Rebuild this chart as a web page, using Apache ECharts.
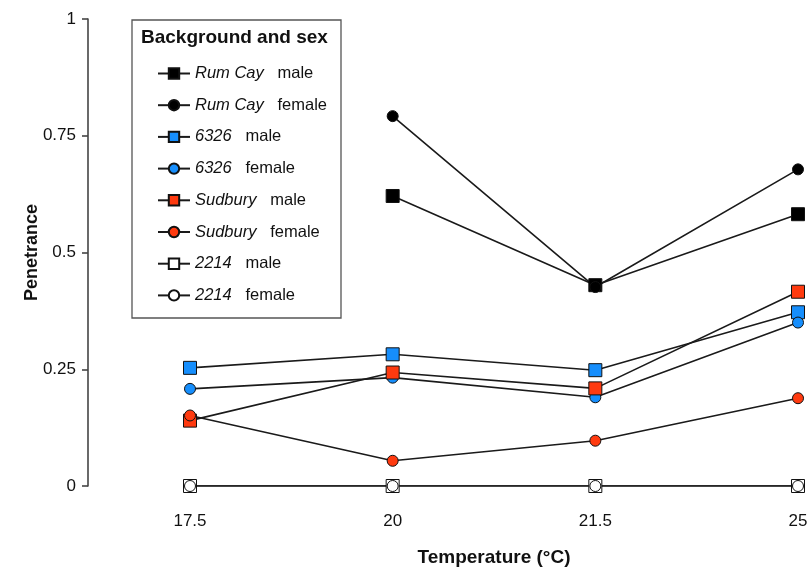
<!DOCTYPE html>
<html>
<head>
<meta charset="utf-8">
<script src="https://cdn.jsdelivr.net/npm/echarts@6/dist/echarts.min.js"></script>
<style>
html,body{margin:0;padding:0;background:#fff;}
#c{width:812px;height:569px;}
</style>
</head>
<body>
<div id="c"></div>
<script>
const temperatures = ['17.5', '20', '21.5', '25'];
const yTicks = [0, 0.25, 0.5, 0.75, 1];
const rumCayMale = [null, 0.621, 0.430, 0.582];
const rumCayFemale = [null, 0.792, 0.426, 0.678];
const m6326Male = [0.253, 0.282, 0.248, 0.372];
const m6326Female = [0.208, 0.232, 0.190, 0.350];
const sudburyMale = [0.140, 0.243, 0.209, 0.416];
const sudburyFemale = [0.151, 0.054, 0.097, 0.188];
const m2214Male = [0, 0, 0, 0];
const m2214Female = [0, 0, 0, 0];

const FONT = '"Liberation Sans", Arial, Helvetica, sans-serif';
const BLUE = '#168efc';
const RED = '#ff3a0f';

function mk(name, data, symbol, color) {
  return {
    name: name,
    type: 'line',
    data: data,
    symbol: symbol === 'square' ? 'rect' : 'circle',
    symbolSize: symbol === 'square' ? 13 : 11,
    connectNulls: false,
    lineStyle: { color: '#1a1a1a', width: 1.6 },
    itemStyle: { color: color, borderColor: '#111', borderWidth: 1 },
    emphasis: { disabled: true },
    animation: false,
    z: 2
  };
}

const series = [
  mk('Rum Cay|male', rumCayMale, 'square', '#000'),
  mk('Rum Cay|female', rumCayFemale, 'circle', '#000'),
  mk('6326|male', m6326Male, 'square', BLUE),
  mk('6326|female', m6326Female, 'circle', BLUE),
  mk('Sudbury|male', sudburyMale, 'square', RED),
  mk('Sudbury|female', sudburyFemale, 'circle', RED),
  mk('2214|male', m2214Male, 'square', '#fff'),
  mk('2214|female', m2214Female, 'circle', '#fff')
];

const chart = echarts.init(document.getElementById('c'), null, { renderer: 'canvas' });
chart.setOption({
  backgroundColor: '#fff',
  animation: false,
  grid: { left: 190, right: 14, top: 19, bottom: 83, containLabel: false, outerBoundsMode: 'none' },
  xAxis: {
    type: 'category',
    data: temperatures,
    boundaryGap: false,
    axisLine: { show: false },
    axisTick: { show: false },
    splitLine: { show: false },
    axisLabel: { fontFamily: FONT, fontSize: 17, color: '#111', margin: 27 },
    name: 'Temperature (°C)',
    nameLocation: 'middle',
    nameGap: 62,
    nameMoveOverlap: false,
    nameTextStyle: { fontFamily: FONT, fontSize: 19, fontWeight: 'bold', color: '#111' }
  },
  yAxis: {
    type: 'value',
    min: 0, max: 1, interval: 0.25,
    offset: 102,
    axisLine: { show: true, lineStyle: { color: '#444', width: 1.6 } },
    axisTick: { show: true, inside: false, length: 6, lineStyle: { color: '#444', width: 1.6 } },
    splitLine: { show: false },
    axisLabel: {
      fontFamily: FONT, fontSize: 17, color: '#111', margin: 12,
      formatter: function (v) {
        const t = yTicks.find(x => Math.abs(x - v) < 1e-9);
        return t === undefined ? '' : String(t);
      }
    },
    name: 'Penetrance',
    nameLocation: 'middle',
    nameGap: 47,
    nameRotate: 90,
    nameMoveOverlap: false,
    nameTextStyle: { fontFamily: FONT, fontSize: 18, fontWeight: 'bold', color: '#111' }
  },
  legend: {
    orient: 'vertical',
    left: 152,
    top: 60,
    itemWidth: 32,
    itemHeight: 13,
    itemGap: 14.7,
    selectedMode: false,
    data: series.map(s => s.name),
    formatter: function (name) {
      const p = name.split('|');
      return '{i|' + p[0] + '}{n|   ' + p[1] + '}';
    },
    textStyle: {
      lineHeight: 16,
      rich: {
        i: { fontFamily: FONT, fontSize: 16.5, fontStyle: 'italic', color: '#111', lineHeight: 16 },
        n: { fontFamily: FONT, fontSize: 16.5, color: '#111', lineHeight: 16 }
      }
    }
  },
  graphic: [
    {
      type: 'rect',
      shape: { x: 132, y: 20, width: 209, height: 298 },
      style: { fill: 'none', stroke: '#555', lineWidth: 1.3 },
      z: 1
    },
    {
      type: 'text',
      left: 141,
      top: 28,
      style: { text: 'Background and sex', font: 'bold 19px ' + FONT, fill: '#111' },
      z: 3
    }
  ],
  series: series
});
</script>
</body>
</html>
